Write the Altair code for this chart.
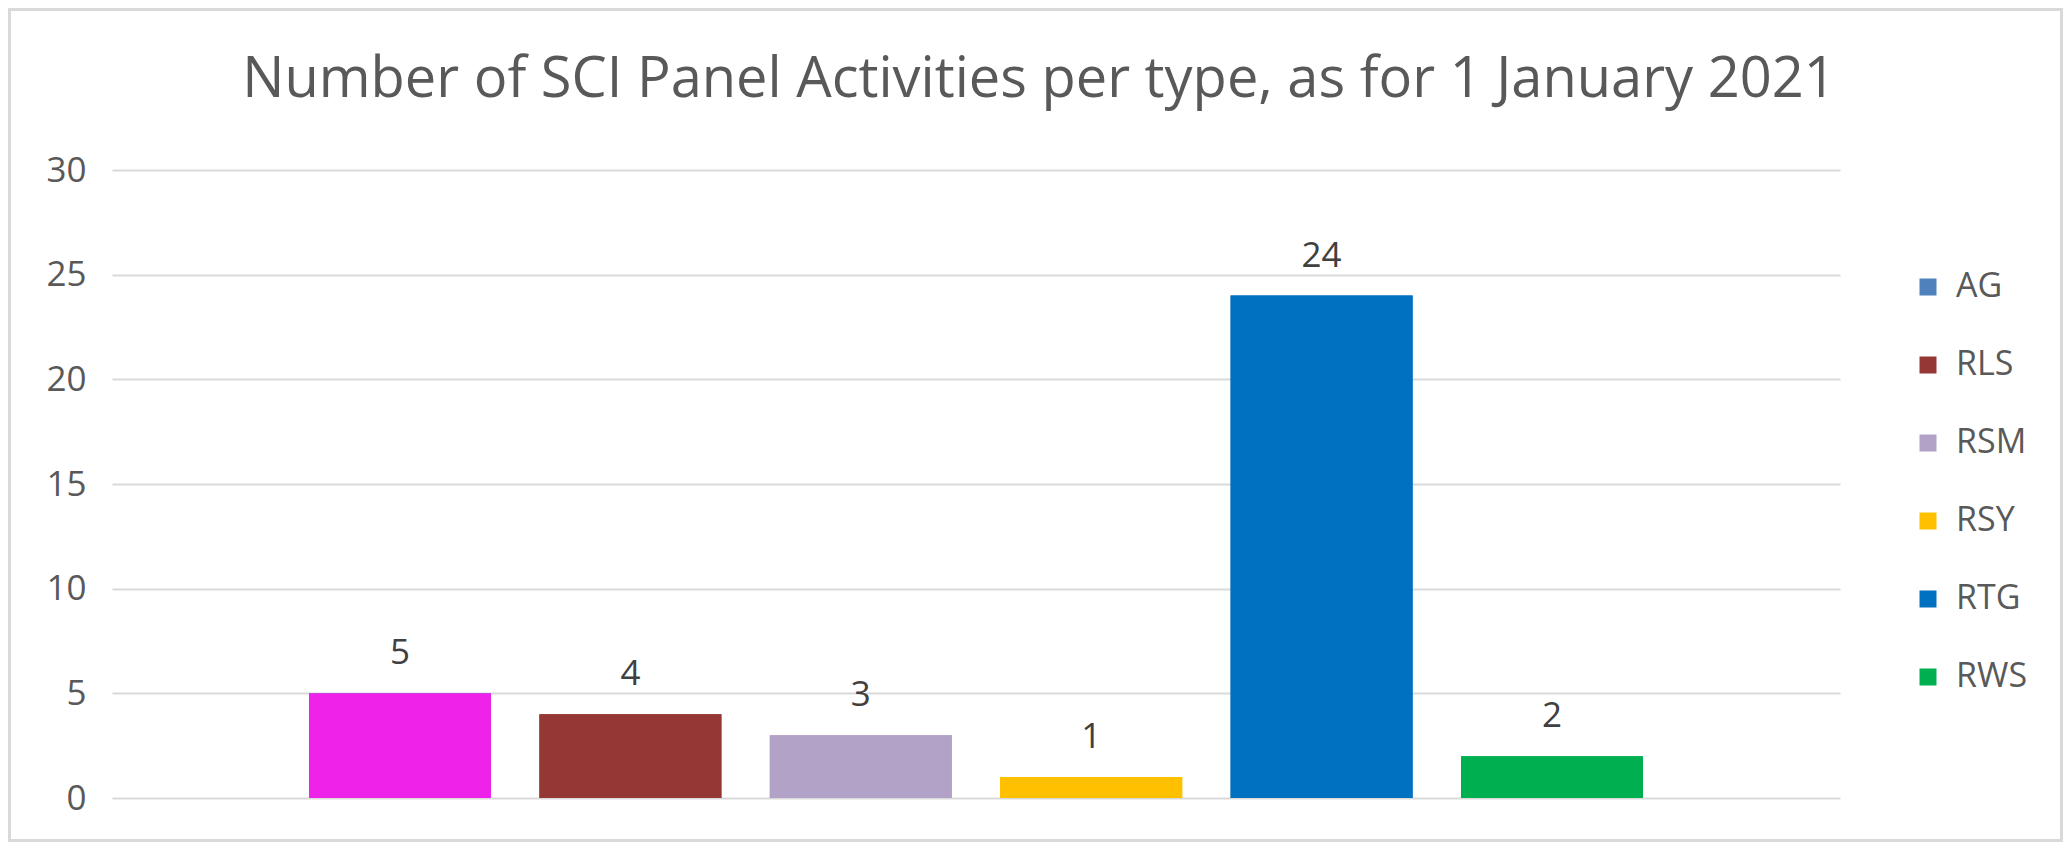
import altair as alt
import pandas as pd

categories = ["AG", "RLS", "RSM", "RSY", "RTG", "RWS"]
values = [5, 4, 3, 1, 24, 2]
legend_colors = ["#4F81BD", "#953735", "#B3A2C7", "#FFC000", "#0070C0", "#00B050"]
bar_colors = ["#EE22E8", "#953735", "#B3A2C7", "#FFC000", "#0070C0", "#00B050"]
y_ticks = [0, 5, 10, 15, 20, 25, 30]
title_text = "Number of SCI Panel Activities per type, as for 1 January 2021"

df = pd.DataFrame({"type": categories, "count": values, "bar_color": bar_colors})

W, H = 1728, 628
PL, PT, PR, PB = 104, 162, 223, 44
FONT = "Open Sans"

x_enc = alt.X("type:N", sort=categories,
              scale=alt.Scale(paddingInner=0.21, paddingOuter=0.855),
              axis=None)
y_enc = alt.Y("count:Q", scale=alt.Scale(domain=[0, 30], nice=False),
              axis=alt.Axis(values=y_ticks, title=None, domain=False, ticks=False,
                            labelPadding=26, labelFontSize=35, labelColor="#595959",
                            labelFont=FONT, gridColor="#D9D9D9", gridWidth=2))

base = alt.Chart(df)

legend_bars = base.mark_bar().encode(
    x=x_enc, y=y_enc,
    color=alt.Color("type:N", sort=categories,
                    scale=alt.Scale(domain=categories, range=legend_colors),
                    legend=alt.Legend(title=None, orient="none", legendX=1799, legendY=100,
                                      symbolType="square", symbolSize=289,
                                      symbolStrokeWidth=0, symbolOpacity=1,
                                      labelFontSize=34, labelFont=FONT,
                                      labelColor="#595959", labelOffset=11,
                                      rowPadding=44, padding=0)),
)

fill_bars = base.mark_bar().encode(
    x=x_enc, y=y_enc,
    fill=alt.Color("bar_color:N", scale=None, legend=None),
)

labels = base.mark_text(baseline="alphabetic", dy=-29, fontSize=35, font=FONT,
                        color="#404040").encode(
    x=x_enc, y=y_enc, text=alt.Text("count:Q"),
)

frame = alt.Chart(pd.DataFrame({"a": [0]})).mark_rect(
    fill=None, stroke="#D9D9D9", strokeWidth=3
).encode(
    x=alt.value(-PL + 1.5), x2=alt.value(W + PR - 1.5),
    y=alt.value(-PT + 1.5), y2=alt.value(H + PB - 1.5),
)

chart = alt.layer(frame, legend_bars, fill_bars, labels).properties(
    width=W, height=H,
    autosize=alt.AutoSizeParams(type="none"),
    padding={"left": PL, "top": PT, "right": PR, "bottom": PB},
    title=alt.TitleParams(title_text, fontSize=56, font=FONT, color="#595959",
                          fontWeight="normal", anchor="middle", frame="group",
                          dx=63, dy=185, offset=40, baseline="alphabetic"),
    background="white",
).configure_view(stroke=None)

chart.save("out.html", embed_options={"renderer": "svg", "actions": False})
